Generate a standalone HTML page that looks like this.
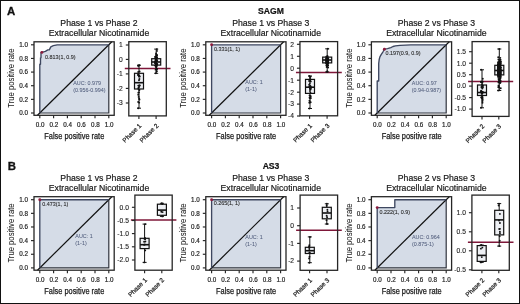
<!DOCTYPE html>
<html><head><meta charset="utf-8"><style>
html,body{margin:0;padding:0;background:#fff;}
svg{display:block;will-change:transform;}
text{font-family:"Liberation Sans", sans-serif;}
</style></head><body>
<svg width="520" height="304" viewBox="0 0 520 304">
<rect x="0" y="0" width="520" height="304" fill="#fff"/>
<rect x="0.5" y="0.5" width="519" height="303" fill="none" stroke="#111" stroke-width="1"/>
<text x="7.00" y="15.40" font-size="11.4" text-anchor="start" font-weight="bold" fill="#111" stroke="#111" stroke-width="0.3" >A</text>
<text x="7.80" y="169.80" font-size="11.4" text-anchor="start" font-weight="bold" fill="#111" stroke="#111" stroke-width="0.3" >B</text>
<text x="271.00" y="14.00" font-size="8.6" text-anchor="middle" font-weight="bold" fill="#111" stroke="#111" stroke-width="0.2" >SAGM</text>
<text x="271.00" y="168.60" font-size="8.6" text-anchor="middle" font-weight="bold" fill="#111" stroke="#111" stroke-width="0.2" >AS3</text>
<text x="99.00" y="25.80" font-size="8.7" text-anchor="middle" font-weight="normal" fill="#1a1a1a" stroke="#1a1a1a" stroke-width="0.2" >Phase 1 vs Phase 2</text>
<text x="99.00" y="35.90" font-size="8.7" text-anchor="middle" font-weight="normal" fill="#1a1a1a" stroke="#1a1a1a" stroke-width="0.2" >Extracellular Nicotinamide</text>
<text x="270.80" y="25.80" font-size="8.7" text-anchor="middle" font-weight="normal" fill="#1a1a1a" stroke="#1a1a1a" stroke-width="0.2" >Phase 1 vs Phase 3</text>
<text x="270.80" y="35.90" font-size="8.7" text-anchor="middle" font-weight="normal" fill="#1a1a1a" stroke="#1a1a1a" stroke-width="0.2" >Extracellular Nicotinamide</text>
<text x="436.40" y="25.80" font-size="8.7" text-anchor="middle" font-weight="normal" fill="#1a1a1a" stroke="#1a1a1a" stroke-width="0.2" >Phase 2 vs Phase 3</text>
<text x="436.40" y="35.90" font-size="8.7" text-anchor="middle" font-weight="normal" fill="#1a1a1a" stroke="#1a1a1a" stroke-width="0.2" >Extracellular Nicotinamide</text>
<text x="99.00" y="180.80" font-size="8.7" text-anchor="middle" font-weight="normal" fill="#1a1a1a" stroke="#1a1a1a" stroke-width="0.2" >Phase 1 vs Phase 2</text>
<text x="99.00" y="190.90" font-size="8.7" text-anchor="middle" font-weight="normal" fill="#1a1a1a" stroke="#1a1a1a" stroke-width="0.2" >Extracellular Nicotinamide</text>
<text x="270.80" y="180.80" font-size="8.7" text-anchor="middle" font-weight="normal" fill="#1a1a1a" stroke="#1a1a1a" stroke-width="0.2" >Phase 1 vs Phase 3</text>
<text x="270.80" y="190.90" font-size="8.7" text-anchor="middle" font-weight="normal" fill="#1a1a1a" stroke="#1a1a1a" stroke-width="0.2" >Extracellular Nicotinamide</text>
<text x="436.40" y="180.80" font-size="8.7" text-anchor="middle" font-weight="normal" fill="#1a1a1a" stroke="#1a1a1a" stroke-width="0.2" >Phase 2 vs Phase 3</text>
<text x="436.40" y="190.90" font-size="8.7" text-anchor="middle" font-weight="normal" fill="#1a1a1a" stroke="#1a1a1a" stroke-width="0.2" >Extracellular Nicotinamide</text>
<polygon points="39.80,113.00 39.80,113.00 39.80,64.20 40.50,64.20 40.50,57.80 41.00,57.80 41.00,52.40 41.90,52.40 45.40,51.40 47.80,49.90 49.30,49.90 50.80,46.90 53.30,45.70 57.20,44.80 108.80,44.80 108.80,113.00" fill="#d5dce7"/>
<polyline points="39.80,113.00 108.80,113.00 108.80,44.80" fill="none" stroke="#30343e" stroke-width="1.2"/>
<line x1="37.47" y1="115.30" x2="111.84" y2="41.80" stroke="#111" stroke-width="1.2"/>
<polyline points="39.80,113.00 39.80,64.20 40.50,64.20 40.50,57.80 41.00,57.80 41.00,52.40 41.90,52.40 45.40,51.40 47.80,49.90 49.30,49.90 50.80,46.90 53.30,45.70 57.20,44.80 108.80,44.80" fill="none" stroke="#3e4760" stroke-width="1.35" stroke-linejoin="round"/>
<rect x="34.00" y="41.80" width="80.2" height="73.5" fill="none" stroke="#262626" stroke-width="1.3"/>
<line x1="31.00" y1="113.00" x2="34.00" y2="113.00" stroke="#262626" stroke-width="1.15"/>
<text x="28.00" y="115.20" font-size="6.3" text-anchor="end" font-weight="normal" fill="#222" stroke="#222" stroke-width="0.18" >0.0</text>
<line x1="31.00" y1="99.36" x2="34.00" y2="99.36" stroke="#262626" stroke-width="1.15"/>
<text x="28.00" y="101.56" font-size="6.3" text-anchor="end" font-weight="normal" fill="#222" stroke="#222" stroke-width="0.18" >0.2</text>
<line x1="31.00" y1="85.72" x2="34.00" y2="85.72" stroke="#262626" stroke-width="1.15"/>
<text x="28.00" y="87.92" font-size="6.3" text-anchor="end" font-weight="normal" fill="#222" stroke="#222" stroke-width="0.18" >0.4</text>
<line x1="31.00" y1="72.08" x2="34.00" y2="72.08" stroke="#262626" stroke-width="1.15"/>
<text x="28.00" y="74.28" font-size="6.3" text-anchor="end" font-weight="normal" fill="#222" stroke="#222" stroke-width="0.18" >0.6</text>
<line x1="31.00" y1="58.44" x2="34.00" y2="58.44" stroke="#262626" stroke-width="1.15"/>
<text x="28.00" y="60.64" font-size="6.3" text-anchor="end" font-weight="normal" fill="#222" stroke="#222" stroke-width="0.18" >0.8</text>
<line x1="31.00" y1="44.80" x2="34.00" y2="44.80" stroke="#262626" stroke-width="1.15"/>
<text x="28.00" y="47.00" font-size="6.3" text-anchor="end" font-weight="normal" fill="#222" stroke="#222" stroke-width="0.18" >1.0</text>
<line x1="39.80" y1="115.30" x2="39.80" y2="118.30" stroke="#262626" stroke-width="1.15"/>
<text x="40.10" y="127.40" font-size="6.3" text-anchor="middle" font-weight="normal" fill="#222" stroke="#222" stroke-width="0.18" >0.0</text>
<line x1="53.60" y1="115.30" x2="53.60" y2="118.30" stroke="#262626" stroke-width="1.15"/>
<text x="53.90" y="127.40" font-size="6.3" text-anchor="middle" font-weight="normal" fill="#222" stroke="#222" stroke-width="0.18" >0.2</text>
<line x1="67.40" y1="115.30" x2="67.40" y2="118.30" stroke="#262626" stroke-width="1.15"/>
<text x="67.70" y="127.40" font-size="6.3" text-anchor="middle" font-weight="normal" fill="#222" stroke="#222" stroke-width="0.18" >0.4</text>
<line x1="81.20" y1="115.30" x2="81.20" y2="118.30" stroke="#262626" stroke-width="1.15"/>
<text x="81.50" y="127.40" font-size="6.3" text-anchor="middle" font-weight="normal" fill="#222" stroke="#222" stroke-width="0.18" >0.6</text>
<line x1="95.00" y1="115.30" x2="95.00" y2="118.30" stroke="#262626" stroke-width="1.15"/>
<text x="95.30" y="127.40" font-size="6.3" text-anchor="middle" font-weight="normal" fill="#222" stroke="#222" stroke-width="0.18" >0.8</text>
<line x1="108.80" y1="115.30" x2="108.80" y2="118.30" stroke="#262626" stroke-width="1.15"/>
<text x="109.10" y="127.40" font-size="6.3" text-anchor="middle" font-weight="normal" fill="#222" stroke="#222" stroke-width="0.18" >1.0</text>
<text x="74.30" y="139.30" font-size="8.5" text-anchor="middle" font-weight="normal" fill="#1a1a1a" stroke="#1a1a1a" stroke-width="0.25" textLength="60" lengthAdjust="spacingAndGlyphs">False positive rate</text>
<text transform="translate(14.20,78.10) rotate(-90)" x="0" y="0" font-size="8.5" text-anchor="middle" fill="#1a1a1a" stroke="#1a1a1a" stroke-width="0.05" textLength="59.2" lengthAdjust="spacingAndGlyphs">True positive rate</text>
<circle cx="41.90" cy="52.40" r="1.45" fill="#8c1a3c"/>
<text x="45.10" y="58.90" font-size="5.4" text-anchor="start" font-weight="normal" fill="#2a2a2a" stroke="#2a2a2a" stroke-width="0.1" >0.813(1, 0.9)</text>
<text x="73.20" y="84.90" font-size="5.4" text-anchor="start" font-weight="normal" fill="#515d7c" stroke="#515d7c" stroke-width="0.05" >AUC: 0.979</text>
<text x="73.20" y="91.90" font-size="5.4" text-anchor="start" font-weight="normal" fill="#515d7c" stroke="#515d7c" stroke-width="0.05" >(0.956-0.994)</text>
<polygon points="211.60,113.00 211.60,113.00 211.60,44.80 280.60,44.80 280.60,113.00" fill="#d5dce7"/>
<polyline points="211.60,113.00 280.60,113.00 280.60,44.80" fill="none" stroke="#30343e" stroke-width="1.2"/>
<line x1="209.27" y1="115.30" x2="283.64" y2="41.80" stroke="#111" stroke-width="1.2"/>
<polyline points="211.60,113.00 211.60,44.80 280.60,44.80" fill="none" stroke="#3e4760" stroke-width="1.35" stroke-linejoin="round"/>
<rect x="205.80" y="41.80" width="80.2" height="73.5" fill="none" stroke="#262626" stroke-width="1.3"/>
<line x1="202.80" y1="113.00" x2="205.80" y2="113.00" stroke="#262626" stroke-width="1.15"/>
<text x="199.80" y="115.20" font-size="6.3" text-anchor="end" font-weight="normal" fill="#222" stroke="#222" stroke-width="0.18" >0.0</text>
<line x1="202.80" y1="99.36" x2="205.80" y2="99.36" stroke="#262626" stroke-width="1.15"/>
<text x="199.80" y="101.56" font-size="6.3" text-anchor="end" font-weight="normal" fill="#222" stroke="#222" stroke-width="0.18" >0.2</text>
<line x1="202.80" y1="85.72" x2="205.80" y2="85.72" stroke="#262626" stroke-width="1.15"/>
<text x="199.80" y="87.92" font-size="6.3" text-anchor="end" font-weight="normal" fill="#222" stroke="#222" stroke-width="0.18" >0.4</text>
<line x1="202.80" y1="72.08" x2="205.80" y2="72.08" stroke="#262626" stroke-width="1.15"/>
<text x="199.80" y="74.28" font-size="6.3" text-anchor="end" font-weight="normal" fill="#222" stroke="#222" stroke-width="0.18" >0.6</text>
<line x1="202.80" y1="58.44" x2="205.80" y2="58.44" stroke="#262626" stroke-width="1.15"/>
<text x="199.80" y="60.64" font-size="6.3" text-anchor="end" font-weight="normal" fill="#222" stroke="#222" stroke-width="0.18" >0.8</text>
<line x1="202.80" y1="44.80" x2="205.80" y2="44.80" stroke="#262626" stroke-width="1.15"/>
<text x="199.80" y="47.00" font-size="6.3" text-anchor="end" font-weight="normal" fill="#222" stroke="#222" stroke-width="0.18" >1.0</text>
<line x1="211.60" y1="115.30" x2="211.60" y2="118.30" stroke="#262626" stroke-width="1.15"/>
<text x="211.90" y="127.40" font-size="6.3" text-anchor="middle" font-weight="normal" fill="#222" stroke="#222" stroke-width="0.18" >0.0</text>
<line x1="225.40" y1="115.30" x2="225.40" y2="118.30" stroke="#262626" stroke-width="1.15"/>
<text x="225.70" y="127.40" font-size="6.3" text-anchor="middle" font-weight="normal" fill="#222" stroke="#222" stroke-width="0.18" >0.2</text>
<line x1="239.20" y1="115.30" x2="239.20" y2="118.30" stroke="#262626" stroke-width="1.15"/>
<text x="239.50" y="127.40" font-size="6.3" text-anchor="middle" font-weight="normal" fill="#222" stroke="#222" stroke-width="0.18" >0.4</text>
<line x1="253.00" y1="115.30" x2="253.00" y2="118.30" stroke="#262626" stroke-width="1.15"/>
<text x="253.30" y="127.40" font-size="6.3" text-anchor="middle" font-weight="normal" fill="#222" stroke="#222" stroke-width="0.18" >0.6</text>
<line x1="266.80" y1="115.30" x2="266.80" y2="118.30" stroke="#262626" stroke-width="1.15"/>
<text x="267.10" y="127.40" font-size="6.3" text-anchor="middle" font-weight="normal" fill="#222" stroke="#222" stroke-width="0.18" >0.8</text>
<line x1="280.60" y1="115.30" x2="280.60" y2="118.30" stroke="#262626" stroke-width="1.15"/>
<text x="280.90" y="127.40" font-size="6.3" text-anchor="middle" font-weight="normal" fill="#222" stroke="#222" stroke-width="0.18" >1.0</text>
<text x="246.10" y="139.30" font-size="8.5" text-anchor="middle" font-weight="normal" fill="#1a1a1a" stroke="#1a1a1a" stroke-width="0.25" textLength="60" lengthAdjust="spacingAndGlyphs">False positive rate</text>
<text transform="translate(186.00,78.10) rotate(-90)" x="0" y="0" font-size="8.5" text-anchor="middle" fill="#1a1a1a" stroke="#1a1a1a" stroke-width="0.05" textLength="59.2" lengthAdjust="spacingAndGlyphs">True positive rate</text>
<circle cx="211.60" cy="44.80" r="1.45" fill="#8c1a3c"/>
<text x="214.00" y="50.60" font-size="5.4" text-anchor="start" font-weight="normal" fill="#2a2a2a" stroke="#2a2a2a" stroke-width="0.1" >0.331(1, 1)</text>
<text x="245.30" y="84.10" font-size="5.4" text-anchor="start" font-weight="normal" fill="#515d7c" stroke="#515d7c" stroke-width="0.05" >AUC: 1</text>
<text x="245.30" y="91.10" font-size="5.4" text-anchor="start" font-weight="normal" fill="#515d7c" stroke="#515d7c" stroke-width="0.05" >(1-1)</text>
<polygon points="377.20,113.00 377.20,113.00 377.20,81.00 378.70,81.00 378.70,63.50 379.20,59.50 379.90,56.80 381.30,54.40 383.00,51.80 384.40,49.20 387.50,48.60 390.80,47.70 393.00,46.50 395.40,45.80 400.00,45.30 410.80,44.80 420.00,44.80 446.20,44.80 446.20,113.00" fill="#d5dce7"/>
<polyline points="377.20,113.00 446.20,113.00 446.20,44.80" fill="none" stroke="#30343e" stroke-width="1.2"/>
<line x1="374.87" y1="115.30" x2="449.24" y2="41.80" stroke="#111" stroke-width="1.2"/>
<polyline points="377.20,113.00 377.20,81.00 378.70,81.00 378.70,63.50 379.20,59.50 379.90,56.80 381.30,54.40 383.00,51.80 384.40,49.20 387.50,48.60 390.80,47.70 393.00,46.50 395.40,45.80 400.00,45.30 410.80,44.80 420.00,44.80 446.20,44.80" fill="none" stroke="#3e4760" stroke-width="1.35" stroke-linejoin="round"/>
<rect x="371.40" y="41.80" width="80.2" height="73.5" fill="none" stroke="#262626" stroke-width="1.3"/>
<line x1="368.40" y1="113.00" x2="371.40" y2="113.00" stroke="#262626" stroke-width="1.15"/>
<text x="365.40" y="115.20" font-size="6.3" text-anchor="end" font-weight="normal" fill="#222" stroke="#222" stroke-width="0.18" >0.0</text>
<line x1="368.40" y1="99.36" x2="371.40" y2="99.36" stroke="#262626" stroke-width="1.15"/>
<text x="365.40" y="101.56" font-size="6.3" text-anchor="end" font-weight="normal" fill="#222" stroke="#222" stroke-width="0.18" >0.2</text>
<line x1="368.40" y1="85.72" x2="371.40" y2="85.72" stroke="#262626" stroke-width="1.15"/>
<text x="365.40" y="87.92" font-size="6.3" text-anchor="end" font-weight="normal" fill="#222" stroke="#222" stroke-width="0.18" >0.4</text>
<line x1="368.40" y1="72.08" x2="371.40" y2="72.08" stroke="#262626" stroke-width="1.15"/>
<text x="365.40" y="74.28" font-size="6.3" text-anchor="end" font-weight="normal" fill="#222" stroke="#222" stroke-width="0.18" >0.6</text>
<line x1="368.40" y1="58.44" x2="371.40" y2="58.44" stroke="#262626" stroke-width="1.15"/>
<text x="365.40" y="60.64" font-size="6.3" text-anchor="end" font-weight="normal" fill="#222" stroke="#222" stroke-width="0.18" >0.8</text>
<line x1="368.40" y1="44.80" x2="371.40" y2="44.80" stroke="#262626" stroke-width="1.15"/>
<text x="365.40" y="47.00" font-size="6.3" text-anchor="end" font-weight="normal" fill="#222" stroke="#222" stroke-width="0.18" >1.0</text>
<line x1="377.20" y1="115.30" x2="377.20" y2="118.30" stroke="#262626" stroke-width="1.15"/>
<text x="377.50" y="127.40" font-size="6.3" text-anchor="middle" font-weight="normal" fill="#222" stroke="#222" stroke-width="0.18" >0.0</text>
<line x1="391.00" y1="115.30" x2="391.00" y2="118.30" stroke="#262626" stroke-width="1.15"/>
<text x="391.30" y="127.40" font-size="6.3" text-anchor="middle" font-weight="normal" fill="#222" stroke="#222" stroke-width="0.18" >0.2</text>
<line x1="404.80" y1="115.30" x2="404.80" y2="118.30" stroke="#262626" stroke-width="1.15"/>
<text x="405.10" y="127.40" font-size="6.3" text-anchor="middle" font-weight="normal" fill="#222" stroke="#222" stroke-width="0.18" >0.4</text>
<line x1="418.60" y1="115.30" x2="418.60" y2="118.30" stroke="#262626" stroke-width="1.15"/>
<text x="418.90" y="127.40" font-size="6.3" text-anchor="middle" font-weight="normal" fill="#222" stroke="#222" stroke-width="0.18" >0.6</text>
<line x1="432.40" y1="115.30" x2="432.40" y2="118.30" stroke="#262626" stroke-width="1.15"/>
<text x="432.70" y="127.40" font-size="6.3" text-anchor="middle" font-weight="normal" fill="#222" stroke="#222" stroke-width="0.18" >0.8</text>
<line x1="446.20" y1="115.30" x2="446.20" y2="118.30" stroke="#262626" stroke-width="1.15"/>
<text x="446.50" y="127.40" font-size="6.3" text-anchor="middle" font-weight="normal" fill="#222" stroke="#222" stroke-width="0.18" >1.0</text>
<text x="411.70" y="139.30" font-size="8.5" text-anchor="middle" font-weight="normal" fill="#1a1a1a" stroke="#1a1a1a" stroke-width="0.25" textLength="60" lengthAdjust="spacingAndGlyphs">False positive rate</text>
<text transform="translate(351.60,78.10) rotate(-90)" x="0" y="0" font-size="8.5" text-anchor="middle" fill="#1a1a1a" stroke="#1a1a1a" stroke-width="0.05" textLength="59.2" lengthAdjust="spacingAndGlyphs">True positive rate</text>
<circle cx="384.40" cy="49.20" r="1.45" fill="#8c1a3c"/>
<text x="385.40" y="54.70" font-size="5.4" text-anchor="start" font-weight="normal" fill="#2a2a2a" stroke="#2a2a2a" stroke-width="0.1" >0.197(0.9, 0.9)</text>
<text x="411.80" y="84.50" font-size="5.4" text-anchor="start" font-weight="normal" fill="#515d7c" stroke="#515d7c" stroke-width="0.05" >AUC: 0.97</text>
<text x="411.80" y="91.50" font-size="5.4" text-anchor="start" font-weight="normal" fill="#515d7c" stroke="#515d7c" stroke-width="0.05" >(0.94-0.987)</text>
<polygon points="39.80,267.90 39.80,267.90 39.80,199.70 108.80,199.70 108.80,267.90" fill="#d5dce7"/>
<polyline points="39.80,267.90 108.80,267.90 108.80,199.70" fill="none" stroke="#30343e" stroke-width="1.2"/>
<line x1="37.47" y1="270.20" x2="111.84" y2="196.70" stroke="#111" stroke-width="1.2"/>
<polyline points="39.80,267.90 39.80,199.70 108.80,199.70" fill="none" stroke="#3e4760" stroke-width="1.35" stroke-linejoin="round"/>
<rect x="34.00" y="196.70" width="80.2" height="73.5" fill="none" stroke="#262626" stroke-width="1.3"/>
<line x1="31.00" y1="267.90" x2="34.00" y2="267.90" stroke="#262626" stroke-width="1.15"/>
<text x="28.00" y="270.10" font-size="6.3" text-anchor="end" font-weight="normal" fill="#222" stroke="#222" stroke-width="0.18" >0.0</text>
<line x1="31.00" y1="254.26" x2="34.00" y2="254.26" stroke="#262626" stroke-width="1.15"/>
<text x="28.00" y="256.46" font-size="6.3" text-anchor="end" font-weight="normal" fill="#222" stroke="#222" stroke-width="0.18" >0.2</text>
<line x1="31.00" y1="240.62" x2="34.00" y2="240.62" stroke="#262626" stroke-width="1.15"/>
<text x="28.00" y="242.82" font-size="6.3" text-anchor="end" font-weight="normal" fill="#222" stroke="#222" stroke-width="0.18" >0.4</text>
<line x1="31.00" y1="226.98" x2="34.00" y2="226.98" stroke="#262626" stroke-width="1.15"/>
<text x="28.00" y="229.18" font-size="6.3" text-anchor="end" font-weight="normal" fill="#222" stroke="#222" stroke-width="0.18" >0.6</text>
<line x1="31.00" y1="213.34" x2="34.00" y2="213.34" stroke="#262626" stroke-width="1.15"/>
<text x="28.00" y="215.54" font-size="6.3" text-anchor="end" font-weight="normal" fill="#222" stroke="#222" stroke-width="0.18" >0.8</text>
<line x1="31.00" y1="199.70" x2="34.00" y2="199.70" stroke="#262626" stroke-width="1.15"/>
<text x="28.00" y="201.90" font-size="6.3" text-anchor="end" font-weight="normal" fill="#222" stroke="#222" stroke-width="0.18" >1.0</text>
<line x1="39.80" y1="270.20" x2="39.80" y2="273.20" stroke="#262626" stroke-width="1.15"/>
<text x="40.10" y="282.30" font-size="6.3" text-anchor="middle" font-weight="normal" fill="#222" stroke="#222" stroke-width="0.18" >0.0</text>
<line x1="53.60" y1="270.20" x2="53.60" y2="273.20" stroke="#262626" stroke-width="1.15"/>
<text x="53.90" y="282.30" font-size="6.3" text-anchor="middle" font-weight="normal" fill="#222" stroke="#222" stroke-width="0.18" >0.2</text>
<line x1="67.40" y1="270.20" x2="67.40" y2="273.20" stroke="#262626" stroke-width="1.15"/>
<text x="67.70" y="282.30" font-size="6.3" text-anchor="middle" font-weight="normal" fill="#222" stroke="#222" stroke-width="0.18" >0.4</text>
<line x1="81.20" y1="270.20" x2="81.20" y2="273.20" stroke="#262626" stroke-width="1.15"/>
<text x="81.50" y="282.30" font-size="6.3" text-anchor="middle" font-weight="normal" fill="#222" stroke="#222" stroke-width="0.18" >0.6</text>
<line x1="95.00" y1="270.20" x2="95.00" y2="273.20" stroke="#262626" stroke-width="1.15"/>
<text x="95.30" y="282.30" font-size="6.3" text-anchor="middle" font-weight="normal" fill="#222" stroke="#222" stroke-width="0.18" >0.8</text>
<line x1="108.80" y1="270.20" x2="108.80" y2="273.20" stroke="#262626" stroke-width="1.15"/>
<text x="109.10" y="282.30" font-size="6.3" text-anchor="middle" font-weight="normal" fill="#222" stroke="#222" stroke-width="0.18" >1.0</text>
<text x="74.30" y="294.20" font-size="8.5" text-anchor="middle" font-weight="normal" fill="#1a1a1a" stroke="#1a1a1a" stroke-width="0.25" textLength="60" lengthAdjust="spacingAndGlyphs">False positive rate</text>
<text transform="translate(14.20,233.00) rotate(-90)" x="0" y="0" font-size="8.5" text-anchor="middle" fill="#1a1a1a" stroke="#1a1a1a" stroke-width="0.05" textLength="59.2" lengthAdjust="spacingAndGlyphs">True positive rate</text>
<circle cx="39.80" cy="199.70" r="1.45" fill="#8c1a3c"/>
<text x="42.30" y="205.70" font-size="5.4" text-anchor="start" font-weight="normal" fill="#2a2a2a" stroke="#2a2a2a" stroke-width="0.1" >0.473(1, 1)</text>
<text x="75.30" y="238.10" font-size="5.4" text-anchor="start" font-weight="normal" fill="#515d7c" stroke="#515d7c" stroke-width="0.05" >AUC: 1</text>
<text x="75.30" y="245.10" font-size="5.4" text-anchor="start" font-weight="normal" fill="#515d7c" stroke="#515d7c" stroke-width="0.05" >(1-1)</text>
<polygon points="211.60,267.90 211.60,267.90 211.60,199.70 280.60,199.70 280.60,267.90" fill="#d5dce7"/>
<polyline points="211.60,267.90 280.60,267.90 280.60,199.70" fill="none" stroke="#30343e" stroke-width="1.2"/>
<line x1="209.27" y1="270.20" x2="283.64" y2="196.70" stroke="#111" stroke-width="1.2"/>
<polyline points="211.60,267.90 211.60,199.70 280.60,199.70" fill="none" stroke="#3e4760" stroke-width="1.35" stroke-linejoin="round"/>
<rect x="205.80" y="196.70" width="80.2" height="73.5" fill="none" stroke="#262626" stroke-width="1.3"/>
<line x1="202.80" y1="267.90" x2="205.80" y2="267.90" stroke="#262626" stroke-width="1.15"/>
<text x="199.80" y="270.10" font-size="6.3" text-anchor="end" font-weight="normal" fill="#222" stroke="#222" stroke-width="0.18" >0.0</text>
<line x1="202.80" y1="254.26" x2="205.80" y2="254.26" stroke="#262626" stroke-width="1.15"/>
<text x="199.80" y="256.46" font-size="6.3" text-anchor="end" font-weight="normal" fill="#222" stroke="#222" stroke-width="0.18" >0.2</text>
<line x1="202.80" y1="240.62" x2="205.80" y2="240.62" stroke="#262626" stroke-width="1.15"/>
<text x="199.80" y="242.82" font-size="6.3" text-anchor="end" font-weight="normal" fill="#222" stroke="#222" stroke-width="0.18" >0.4</text>
<line x1="202.80" y1="226.98" x2="205.80" y2="226.98" stroke="#262626" stroke-width="1.15"/>
<text x="199.80" y="229.18" font-size="6.3" text-anchor="end" font-weight="normal" fill="#222" stroke="#222" stroke-width="0.18" >0.6</text>
<line x1="202.80" y1="213.34" x2="205.80" y2="213.34" stroke="#262626" stroke-width="1.15"/>
<text x="199.80" y="215.54" font-size="6.3" text-anchor="end" font-weight="normal" fill="#222" stroke="#222" stroke-width="0.18" >0.8</text>
<line x1="202.80" y1="199.70" x2="205.80" y2="199.70" stroke="#262626" stroke-width="1.15"/>
<text x="199.80" y="201.90" font-size="6.3" text-anchor="end" font-weight="normal" fill="#222" stroke="#222" stroke-width="0.18" >1.0</text>
<line x1="211.60" y1="270.20" x2="211.60" y2="273.20" stroke="#262626" stroke-width="1.15"/>
<text x="211.90" y="282.30" font-size="6.3" text-anchor="middle" font-weight="normal" fill="#222" stroke="#222" stroke-width="0.18" >0.0</text>
<line x1="225.40" y1="270.20" x2="225.40" y2="273.20" stroke="#262626" stroke-width="1.15"/>
<text x="225.70" y="282.30" font-size="6.3" text-anchor="middle" font-weight="normal" fill="#222" stroke="#222" stroke-width="0.18" >0.2</text>
<line x1="239.20" y1="270.20" x2="239.20" y2="273.20" stroke="#262626" stroke-width="1.15"/>
<text x="239.50" y="282.30" font-size="6.3" text-anchor="middle" font-weight="normal" fill="#222" stroke="#222" stroke-width="0.18" >0.4</text>
<line x1="253.00" y1="270.20" x2="253.00" y2="273.20" stroke="#262626" stroke-width="1.15"/>
<text x="253.30" y="282.30" font-size="6.3" text-anchor="middle" font-weight="normal" fill="#222" stroke="#222" stroke-width="0.18" >0.6</text>
<line x1="266.80" y1="270.20" x2="266.80" y2="273.20" stroke="#262626" stroke-width="1.15"/>
<text x="267.10" y="282.30" font-size="6.3" text-anchor="middle" font-weight="normal" fill="#222" stroke="#222" stroke-width="0.18" >0.8</text>
<line x1="280.60" y1="270.20" x2="280.60" y2="273.20" stroke="#262626" stroke-width="1.15"/>
<text x="280.90" y="282.30" font-size="6.3" text-anchor="middle" font-weight="normal" fill="#222" stroke="#222" stroke-width="0.18" >1.0</text>
<text x="246.10" y="294.20" font-size="8.5" text-anchor="middle" font-weight="normal" fill="#1a1a1a" stroke="#1a1a1a" stroke-width="0.25" textLength="60" lengthAdjust="spacingAndGlyphs">False positive rate</text>
<text transform="translate(186.00,233.00) rotate(-90)" x="0" y="0" font-size="8.5" text-anchor="middle" fill="#1a1a1a" stroke="#1a1a1a" stroke-width="0.05" textLength="59.2" lengthAdjust="spacingAndGlyphs">True positive rate</text>
<circle cx="211.60" cy="199.70" r="1.45" fill="#8c1a3c"/>
<text x="213.70" y="205.40" font-size="5.4" text-anchor="start" font-weight="normal" fill="#2a2a2a" stroke="#2a2a2a" stroke-width="0.1" >0.265(1, 1)</text>
<text x="245.30" y="239.00" font-size="5.4" text-anchor="start" font-weight="normal" fill="#515d7c" stroke="#515d7c" stroke-width="0.05" >AUC: 1</text>
<text x="245.30" y="246.00" font-size="5.4" text-anchor="start" font-weight="normal" fill="#515d7c" stroke="#515d7c" stroke-width="0.05" >(1-1)</text>
<polygon points="377.20,267.90 377.20,267.90 377.20,207.60 394.80,207.60 394.80,199.70 446.20,199.70 446.20,267.90" fill="#d5dce7"/>
<polyline points="377.20,267.90 446.20,267.90 446.20,199.70" fill="none" stroke="#30343e" stroke-width="1.2"/>
<line x1="374.87" y1="270.20" x2="449.24" y2="196.70" stroke="#111" stroke-width="1.2"/>
<polyline points="377.20,267.90 377.20,207.60 394.80,207.60 394.80,199.70 446.20,199.70" fill="none" stroke="#3e4760" stroke-width="1.35" stroke-linejoin="round"/>
<rect x="371.40" y="196.70" width="80.2" height="73.5" fill="none" stroke="#262626" stroke-width="1.3"/>
<line x1="368.40" y1="267.90" x2="371.40" y2="267.90" stroke="#262626" stroke-width="1.15"/>
<text x="365.40" y="270.10" font-size="6.3" text-anchor="end" font-weight="normal" fill="#222" stroke="#222" stroke-width="0.18" >0.0</text>
<line x1="368.40" y1="254.26" x2="371.40" y2="254.26" stroke="#262626" stroke-width="1.15"/>
<text x="365.40" y="256.46" font-size="6.3" text-anchor="end" font-weight="normal" fill="#222" stroke="#222" stroke-width="0.18" >0.2</text>
<line x1="368.40" y1="240.62" x2="371.40" y2="240.62" stroke="#262626" stroke-width="1.15"/>
<text x="365.40" y="242.82" font-size="6.3" text-anchor="end" font-weight="normal" fill="#222" stroke="#222" stroke-width="0.18" >0.4</text>
<line x1="368.40" y1="226.98" x2="371.40" y2="226.98" stroke="#262626" stroke-width="1.15"/>
<text x="365.40" y="229.18" font-size="6.3" text-anchor="end" font-weight="normal" fill="#222" stroke="#222" stroke-width="0.18" >0.6</text>
<line x1="368.40" y1="213.34" x2="371.40" y2="213.34" stroke="#262626" stroke-width="1.15"/>
<text x="365.40" y="215.54" font-size="6.3" text-anchor="end" font-weight="normal" fill="#222" stroke="#222" stroke-width="0.18" >0.8</text>
<line x1="368.40" y1="199.70" x2="371.40" y2="199.70" stroke="#262626" stroke-width="1.15"/>
<text x="365.40" y="201.90" font-size="6.3" text-anchor="end" font-weight="normal" fill="#222" stroke="#222" stroke-width="0.18" >1.0</text>
<line x1="377.20" y1="270.20" x2="377.20" y2="273.20" stroke="#262626" stroke-width="1.15"/>
<text x="377.50" y="282.30" font-size="6.3" text-anchor="middle" font-weight="normal" fill="#222" stroke="#222" stroke-width="0.18" >0.0</text>
<line x1="391.00" y1="270.20" x2="391.00" y2="273.20" stroke="#262626" stroke-width="1.15"/>
<text x="391.30" y="282.30" font-size="6.3" text-anchor="middle" font-weight="normal" fill="#222" stroke="#222" stroke-width="0.18" >0.2</text>
<line x1="404.80" y1="270.20" x2="404.80" y2="273.20" stroke="#262626" stroke-width="1.15"/>
<text x="405.10" y="282.30" font-size="6.3" text-anchor="middle" font-weight="normal" fill="#222" stroke="#222" stroke-width="0.18" >0.4</text>
<line x1="418.60" y1="270.20" x2="418.60" y2="273.20" stroke="#262626" stroke-width="1.15"/>
<text x="418.90" y="282.30" font-size="6.3" text-anchor="middle" font-weight="normal" fill="#222" stroke="#222" stroke-width="0.18" >0.6</text>
<line x1="432.40" y1="270.20" x2="432.40" y2="273.20" stroke="#262626" stroke-width="1.15"/>
<text x="432.70" y="282.30" font-size="6.3" text-anchor="middle" font-weight="normal" fill="#222" stroke="#222" stroke-width="0.18" >0.8</text>
<line x1="446.20" y1="270.20" x2="446.20" y2="273.20" stroke="#262626" stroke-width="1.15"/>
<text x="446.50" y="282.30" font-size="6.3" text-anchor="middle" font-weight="normal" fill="#222" stroke="#222" stroke-width="0.18" >1.0</text>
<text x="411.70" y="294.20" font-size="8.5" text-anchor="middle" font-weight="normal" fill="#1a1a1a" stroke="#1a1a1a" stroke-width="0.25" textLength="60" lengthAdjust="spacingAndGlyphs">False positive rate</text>
<text transform="translate(351.60,233.00) rotate(-90)" x="0" y="0" font-size="8.5" text-anchor="middle" fill="#1a1a1a" stroke="#1a1a1a" stroke-width="0.05" textLength="59.2" lengthAdjust="spacingAndGlyphs">True positive rate</text>
<circle cx="377.20" cy="207.60" r="1.45" fill="#8c1a3c"/>
<text x="379.50" y="214.00" font-size="5.4" text-anchor="start" font-weight="normal" fill="#2a2a2a" stroke="#2a2a2a" stroke-width="0.1" >0.222(1, 0.9)</text>
<text x="411.90" y="239.00" font-size="5.4" text-anchor="start" font-weight="normal" fill="#515d7c" stroke="#515d7c" stroke-width="0.05" >AUC: 0.964</text>
<text x="411.90" y="246.00" font-size="5.4" text-anchor="start" font-weight="normal" fill="#515d7c" stroke="#515d7c" stroke-width="0.05" >(0.875-1)</text>
<line x1="124.80" y1="68.50" x2="170.50" y2="68.50" stroke="#7e1739" stroke-width="1.5"/>
<line x1="139.00" y1="65.20" x2="139.00" y2="73.30" stroke="#111" stroke-width="1"/>
<line x1="139.00" y1="89.00" x2="139.00" y2="108.20" stroke="#111" stroke-width="1"/>
<line x1="137.00" y1="65.20" x2="141.00" y2="65.20" stroke="#111" stroke-width="1"/>
<line x1="137.00" y1="108.20" x2="141.00" y2="108.20" stroke="#111" stroke-width="1"/>
<rect x="134.50" y="73.30" width="9.0" height="15.70" fill="#eef0f4" stroke="#111" stroke-width="1.2"/>
<line x1="134.50" y1="82.70" x2="143.50" y2="82.70" stroke="#111" stroke-width="1.6"/>
<circle cx="139.27" cy="65.20" r="0.95" fill="#111"/>
<circle cx="138.23" cy="108.20" r="0.95" fill="#111"/>
<circle cx="138.20" cy="71.88" r="0.95" fill="#111"/>
<circle cx="139.01" cy="80.22" r="0.95" fill="#111"/>
<circle cx="138.23" cy="94.76" r="0.95" fill="#111"/>
<circle cx="138.26" cy="85.59" r="0.95" fill="#111"/>
<circle cx="138.32" cy="92.65" r="0.95" fill="#111"/>
<circle cx="139.81" cy="85.43" r="0.95" fill="#111"/>
<circle cx="139.14" cy="98.81" r="0.95" fill="#111"/>
<circle cx="138.18" cy="101.93" r="0.95" fill="#111"/>
<circle cx="138.36" cy="88.76" r="0.95" fill="#111"/>
<circle cx="138.31" cy="75.23" r="0.95" fill="#111"/>
<circle cx="138.43" cy="75.01" r="0.95" fill="#111"/>
<circle cx="139.15" cy="102.67" r="0.95" fill="#111"/>
<circle cx="139.09" cy="75.49" r="0.95" fill="#111"/>
<circle cx="138.21" cy="74.10" r="0.95" fill="#111"/>
<circle cx="139.32" cy="90.05" r="0.95" fill="#111"/>
<circle cx="138.87" cy="85.59" r="0.95" fill="#111"/>
<circle cx="138.92" cy="76.65" r="0.95" fill="#111"/>
<circle cx="138.64" cy="96.90" r="0.95" fill="#111"/>
<circle cx="138.54" cy="87.66" r="0.95" fill="#111"/>
<circle cx="139.13" cy="65.37" r="0.95" fill="#111"/>
<circle cx="139.41" cy="78.96" r="0.95" fill="#111"/>
<circle cx="138.31" cy="75.01" r="0.95" fill="#111"/>
<circle cx="138.37" cy="65.67" r="0.95" fill="#111"/>
<circle cx="138.98" cy="92.33" r="0.95" fill="#111"/>
<circle cx="139.48" cy="99.45" r="0.95" fill="#111"/>
<circle cx="139.13" cy="86.91" r="0.95" fill="#111"/>
<circle cx="139.35" cy="89.86" r="0.95" fill="#111"/>
<circle cx="139.17" cy="75.59" r="0.95" fill="#111"/>
<circle cx="139.61" cy="71.45" r="0.95" fill="#111"/>
<circle cx="139.80" cy="76.52" r="0.95" fill="#111"/>
<circle cx="138.21" cy="65.75" r="0.95" fill="#111"/>
<circle cx="139.36" cy="85.48" r="0.95" fill="#111"/>
<line x1="156.20" y1="49.10" x2="156.20" y2="58.70" stroke="#111" stroke-width="1"/>
<line x1="156.20" y1="65.10" x2="156.20" y2="73.30" stroke="#111" stroke-width="1"/>
<line x1="154.20" y1="49.10" x2="158.20" y2="49.10" stroke="#111" stroke-width="1"/>
<line x1="154.20" y1="73.30" x2="158.20" y2="73.30" stroke="#111" stroke-width="1"/>
<rect x="151.70" y="58.70" width="9.0" height="6.40" fill="#eef0f4" stroke="#111" stroke-width="1.2"/>
<line x1="151.70" y1="62.00" x2="160.70" y2="62.00" stroke="#111" stroke-width="1.6"/>
<circle cx="156.78" cy="49.10" r="0.95" fill="#111"/>
<circle cx="155.81" cy="73.30" r="0.95" fill="#111"/>
<circle cx="155.34" cy="56.69" r="0.95" fill="#111"/>
<circle cx="156.13" cy="66.63" r="0.95" fill="#111"/>
<circle cx="155.41" cy="63.17" r="0.95" fill="#111"/>
<circle cx="156.68" cy="64.06" r="0.95" fill="#111"/>
<circle cx="156.00" cy="64.46" r="0.95" fill="#111"/>
<circle cx="156.87" cy="64.60" r="0.95" fill="#111"/>
<circle cx="156.29" cy="66.53" r="0.95" fill="#111"/>
<circle cx="156.89" cy="64.51" r="0.95" fill="#111"/>
<circle cx="155.80" cy="65.99" r="0.95" fill="#111"/>
<circle cx="156.05" cy="53.41" r="0.95" fill="#111"/>
<circle cx="157.02" cy="55.78" r="0.95" fill="#111"/>
<circle cx="155.57" cy="69.63" r="0.95" fill="#111"/>
<circle cx="155.72" cy="63.54" r="0.95" fill="#111"/>
<circle cx="156.17" cy="65.08" r="0.95" fill="#111"/>
<circle cx="155.31" cy="58.86" r="0.95" fill="#111"/>
<circle cx="156.05" cy="60.03" r="0.95" fill="#111"/>
<circle cx="157.02" cy="57.83" r="0.95" fill="#111"/>
<circle cx="156.54" cy="66.49" r="0.95" fill="#111"/>
<circle cx="156.52" cy="55.46" r="0.95" fill="#111"/>
<circle cx="155.40" cy="61.36" r="0.95" fill="#111"/>
<circle cx="156.87" cy="68.66" r="0.95" fill="#111"/>
<circle cx="156.74" cy="57.13" r="0.95" fill="#111"/>
<circle cx="155.49" cy="58.27" r="0.95" fill="#111"/>
<circle cx="156.44" cy="64.99" r="0.95" fill="#111"/>
<circle cx="155.68" cy="63.64" r="0.95" fill="#111"/>
<circle cx="155.59" cy="62.67" r="0.95" fill="#111"/>
<circle cx="155.30" cy="61.16" r="0.95" fill="#111"/>
<circle cx="155.57" cy="63.32" r="0.95" fill="#111"/>
<circle cx="155.35" cy="65.62" r="0.95" fill="#111"/>
<circle cx="156.87" cy="64.68" r="0.95" fill="#111"/>
<circle cx="155.75" cy="59.97" r="0.95" fill="#111"/>
<circle cx="155.93" cy="60.23" r="0.95" fill="#111"/>
<circle cx="156.83" cy="60.40" r="0.95" fill="#111"/>
<circle cx="157.09" cy="63.83" r="0.95" fill="#111"/>
<circle cx="155.45" cy="56.67" r="0.95" fill="#111"/>
<circle cx="155.48" cy="63.16" r="0.95" fill="#111"/>
<circle cx="156.79" cy="59.96" r="0.95" fill="#111"/>
<circle cx="155.59" cy="65.11" r="0.95" fill="#111"/>
<circle cx="156.25" cy="63.68" r="0.95" fill="#111"/>
<circle cx="155.35" cy="65.59" r="0.95" fill="#111"/>
<circle cx="156.25" cy="66.73" r="0.95" fill="#111"/>
<circle cx="156.55" cy="71.37" r="0.95" fill="#111"/>
<circle cx="155.77" cy="60.73" r="0.95" fill="#111"/>
<circle cx="156.69" cy="60.08" r="0.95" fill="#111"/>
<circle cx="156.26" cy="64.13" r="0.95" fill="#111"/>
<circle cx="155.70" cy="62.77" r="0.95" fill="#111"/>
<circle cx="156.76" cy="57.83" r="0.95" fill="#111"/>
<circle cx="156.75" cy="71.24" r="0.95" fill="#111"/>
<circle cx="156.77" cy="61.12" r="0.95" fill="#111"/>
<circle cx="156.23" cy="61.78" r="0.95" fill="#111"/>
<circle cx="155.94" cy="58.61" r="0.95" fill="#111"/>
<circle cx="155.80" cy="63.11" r="0.95" fill="#111"/>
<circle cx="155.77" cy="62.20" r="0.95" fill="#111"/>
<circle cx="156.11" cy="57.81" r="0.95" fill="#111"/>
<circle cx="156.99" cy="50.89" r="0.95" fill="#111"/>
<circle cx="155.96" cy="61.11" r="0.95" fill="#111"/>
<circle cx="155.65" cy="62.63" r="0.95" fill="#111"/>
<circle cx="155.67" cy="65.34" r="0.95" fill="#111"/>
<circle cx="156.81" cy="54.76" r="0.95" fill="#111"/>
<circle cx="156.16" cy="54.84" r="0.95" fill="#111"/>
<circle cx="155.45" cy="57.13" r="0.95" fill="#111"/>
<circle cx="156.49" cy="55.03" r="0.95" fill="#111"/>
<circle cx="156.65" cy="68.98" r="0.95" fill="#111"/>
<circle cx="156.16" cy="57.55" r="0.95" fill="#111"/>
<circle cx="155.90" cy="65.63" r="0.95" fill="#111"/>
<circle cx="156.74" cy="69.54" r="0.95" fill="#111"/>
<circle cx="156.02" cy="66.68" r="0.95" fill="#111"/>
<circle cx="157.00" cy="61.16" r="0.95" fill="#111"/>
<rect x="128.80" y="41.70" width="37.50" height="74.20" fill="none" stroke="#262626" stroke-width="1.3"/>
<line x1="125.80" y1="45.00" x2="128.80" y2="45.00" stroke="#262626" stroke-width="1.15"/>
<text x="122.80" y="47.30" font-size="6.7" text-anchor="end" font-weight="normal" fill="#222" stroke="#222" stroke-width="0.12" >1</text>
<line x1="125.80" y1="59.40" x2="128.80" y2="59.40" stroke="#262626" stroke-width="1.15"/>
<text x="122.80" y="61.70" font-size="6.7" text-anchor="end" font-weight="normal" fill="#222" stroke="#222" stroke-width="0.12" >0</text>
<line x1="125.80" y1="73.90" x2="128.80" y2="73.90" stroke="#262626" stroke-width="1.15"/>
<text x="122.80" y="76.20" font-size="6.7" text-anchor="end" font-weight="normal" fill="#222" stroke="#222" stroke-width="0.12" >-1</text>
<line x1="125.80" y1="88.40" x2="128.80" y2="88.40" stroke="#262626" stroke-width="1.15"/>
<text x="122.80" y="90.70" font-size="6.7" text-anchor="end" font-weight="normal" fill="#222" stroke="#222" stroke-width="0.12" >-2</text>
<line x1="125.80" y1="103.00" x2="128.80" y2="103.00" stroke="#262626" stroke-width="1.15"/>
<text x="122.80" y="105.30" font-size="6.7" text-anchor="end" font-weight="normal" fill="#222" stroke="#222" stroke-width="0.12" >-3</text>
<line x1="138.90" y1="115.90" x2="138.90" y2="118.90" stroke="#262626" stroke-width="1.15"/>
<text transform="translate(141.70,126.30) rotate(-45)" x="0" y="0" font-size="6.4" text-anchor="end" fill="#222" stroke="#222" stroke-width="0.22">Phase 1</text>
<line x1="156.10" y1="115.90" x2="156.10" y2="118.90" stroke="#262626" stroke-width="1.15"/>
<text transform="translate(158.90,126.30) rotate(-45)" x="0" y="0" font-size="6.4" text-anchor="end" fill="#222" stroke="#222" stroke-width="0.22">Phase 2</text>
<line x1="295.95" y1="72.50" x2="341.80" y2="72.50" stroke="#7e1739" stroke-width="1.5"/>
<line x1="310.00" y1="76.00" x2="310.00" y2="79.40" stroke="#111" stroke-width="1"/>
<line x1="310.00" y1="93.40" x2="310.00" y2="108.50" stroke="#111" stroke-width="1"/>
<line x1="308.00" y1="76.00" x2="312.00" y2="76.00" stroke="#111" stroke-width="1"/>
<line x1="308.00" y1="108.50" x2="312.00" y2="108.50" stroke="#111" stroke-width="1"/>
<rect x="305.50" y="79.40" width="9.0" height="14.00" fill="#eef0f4" stroke="#111" stroke-width="1.2"/>
<line x1="305.50" y1="87.20" x2="314.50" y2="87.20" stroke="#111" stroke-width="1.6"/>
<circle cx="309.33" cy="76.00" r="0.95" fill="#111"/>
<circle cx="309.37" cy="108.50" r="0.95" fill="#111"/>
<circle cx="309.36" cy="102.74" r="0.95" fill="#111"/>
<circle cx="310.59" cy="76.62" r="0.95" fill="#111"/>
<circle cx="309.73" cy="102.26" r="0.95" fill="#111"/>
<circle cx="310.09" cy="85.33" r="0.95" fill="#111"/>
<circle cx="310.85" cy="88.39" r="0.95" fill="#111"/>
<circle cx="310.27" cy="88.49" r="0.95" fill="#111"/>
<circle cx="309.88" cy="83.18" r="0.95" fill="#111"/>
<circle cx="309.48" cy="100.63" r="0.95" fill="#111"/>
<circle cx="309.53" cy="87.10" r="0.95" fill="#111"/>
<circle cx="310.16" cy="95.83" r="0.95" fill="#111"/>
<circle cx="309.34" cy="86.56" r="0.95" fill="#111"/>
<circle cx="310.74" cy="97.99" r="0.95" fill="#111"/>
<circle cx="310.15" cy="80.23" r="0.95" fill="#111"/>
<circle cx="310.73" cy="96.32" r="0.95" fill="#111"/>
<circle cx="310.00" cy="98.29" r="0.95" fill="#111"/>
<circle cx="309.13" cy="84.69" r="0.95" fill="#111"/>
<circle cx="309.11" cy="81.07" r="0.95" fill="#111"/>
<circle cx="310.54" cy="89.62" r="0.95" fill="#111"/>
<circle cx="310.41" cy="92.71" r="0.95" fill="#111"/>
<circle cx="310.10" cy="97.58" r="0.95" fill="#111"/>
<circle cx="310.10" cy="81.44" r="0.95" fill="#111"/>
<circle cx="310.51" cy="98.33" r="0.95" fill="#111"/>
<circle cx="309.55" cy="97.65" r="0.95" fill="#111"/>
<circle cx="309.60" cy="95.42" r="0.95" fill="#111"/>
<circle cx="310.11" cy="88.92" r="0.95" fill="#111"/>
<circle cx="309.90" cy="88.64" r="0.95" fill="#111"/>
<circle cx="310.02" cy="77.84" r="0.95" fill="#111"/>
<circle cx="310.35" cy="79.20" r="0.95" fill="#111"/>
<circle cx="309.96" cy="90.98" r="0.95" fill="#111"/>
<circle cx="310.68" cy="102.20" r="0.95" fill="#111"/>
<circle cx="310.80" cy="81.42" r="0.95" fill="#111"/>
<circle cx="310.80" cy="86.40" r="0.95" fill="#111"/>
<line x1="327.20" y1="48.80" x2="327.20" y2="57.10" stroke="#111" stroke-width="1"/>
<line x1="327.20" y1="62.90" x2="327.20" y2="71.90" stroke="#111" stroke-width="1"/>
<line x1="325.20" y1="48.80" x2="329.20" y2="48.80" stroke="#111" stroke-width="1"/>
<line x1="325.20" y1="71.90" x2="329.20" y2="71.90" stroke="#111" stroke-width="1"/>
<rect x="322.70" y="57.10" width="9.0" height="5.80" fill="#eef0f4" stroke="#111" stroke-width="1.2"/>
<line x1="322.70" y1="60.00" x2="331.70" y2="60.00" stroke="#111" stroke-width="1.6"/>
<circle cx="327.88" cy="48.80" r="0.95" fill="#111"/>
<circle cx="327.08" cy="71.90" r="0.95" fill="#111"/>
<circle cx="326.35" cy="61.66" r="0.95" fill="#111"/>
<circle cx="327.54" cy="60.10" r="0.95" fill="#111"/>
<circle cx="327.77" cy="61.67" r="0.95" fill="#111"/>
<circle cx="327.63" cy="61.99" r="0.95" fill="#111"/>
<circle cx="327.52" cy="58.50" r="0.95" fill="#111"/>
<circle cx="328.14" cy="65.54" r="0.95" fill="#111"/>
<circle cx="326.64" cy="66.96" r="0.95" fill="#111"/>
<circle cx="327.17" cy="64.14" r="0.95" fill="#111"/>
<circle cx="328.18" cy="58.73" r="0.95" fill="#111"/>
<circle cx="327.06" cy="61.26" r="0.95" fill="#111"/>
<circle cx="327.23" cy="57.78" r="0.95" fill="#111"/>
<circle cx="326.84" cy="58.49" r="0.95" fill="#111"/>
<circle cx="327.64" cy="62.40" r="0.95" fill="#111"/>
<circle cx="327.08" cy="65.42" r="0.95" fill="#111"/>
<circle cx="326.24" cy="60.67" r="0.95" fill="#111"/>
<circle cx="327.22" cy="57.06" r="0.95" fill="#111"/>
<circle cx="326.33" cy="65.24" r="0.95" fill="#111"/>
<circle cx="328.14" cy="67.54" r="0.95" fill="#111"/>
<circle cx="326.41" cy="59.29" r="0.95" fill="#111"/>
<circle cx="327.76" cy="59.88" r="0.95" fill="#111"/>
<circle cx="326.74" cy="61.22" r="0.95" fill="#111"/>
<circle cx="328.02" cy="63.09" r="0.95" fill="#111"/>
<circle cx="327.84" cy="63.27" r="0.95" fill="#111"/>
<circle cx="328.04" cy="59.87" r="0.95" fill="#111"/>
<circle cx="327.34" cy="62.44" r="0.95" fill="#111"/>
<circle cx="326.32" cy="59.43" r="0.95" fill="#111"/>
<circle cx="327.58" cy="58.23" r="0.95" fill="#111"/>
<circle cx="328.08" cy="58.51" r="0.95" fill="#111"/>
<circle cx="327.47" cy="60.75" r="0.95" fill="#111"/>
<circle cx="327.91" cy="60.57" r="0.95" fill="#111"/>
<circle cx="326.33" cy="58.30" r="0.95" fill="#111"/>
<circle cx="326.88" cy="63.07" r="0.95" fill="#111"/>
<circle cx="327.31" cy="56.41" r="0.95" fill="#111"/>
<circle cx="326.46" cy="63.04" r="0.95" fill="#111"/>
<circle cx="327.25" cy="58.49" r="0.95" fill="#111"/>
<circle cx="326.52" cy="60.15" r="0.95" fill="#111"/>
<circle cx="326.30" cy="62.06" r="0.95" fill="#111"/>
<circle cx="326.81" cy="61.11" r="0.95" fill="#111"/>
<circle cx="327.72" cy="63.55" r="0.95" fill="#111"/>
<circle cx="326.56" cy="58.74" r="0.95" fill="#111"/>
<circle cx="326.89" cy="64.90" r="0.95" fill="#111"/>
<circle cx="326.23" cy="63.24" r="0.95" fill="#111"/>
<circle cx="327.67" cy="60.37" r="0.95" fill="#111"/>
<circle cx="327.15" cy="57.36" r="0.95" fill="#111"/>
<circle cx="328.07" cy="59.12" r="0.95" fill="#111"/>
<circle cx="327.06" cy="66.24" r="0.95" fill="#111"/>
<circle cx="327.19" cy="64.92" r="0.95" fill="#111"/>
<circle cx="327.21" cy="62.18" r="0.95" fill="#111"/>
<circle cx="327.58" cy="56.30" r="0.95" fill="#111"/>
<circle cx="327.86" cy="63.91" r="0.95" fill="#111"/>
<circle cx="327.61" cy="59.57" r="0.95" fill="#111"/>
<circle cx="326.90" cy="57.13" r="0.95" fill="#111"/>
<circle cx="326.31" cy="56.70" r="0.95" fill="#111"/>
<circle cx="327.68" cy="61.13" r="0.95" fill="#111"/>
<circle cx="326.71" cy="61.20" r="0.95" fill="#111"/>
<circle cx="327.88" cy="60.94" r="0.95" fill="#111"/>
<circle cx="327.94" cy="61.54" r="0.95" fill="#111"/>
<circle cx="326.68" cy="58.33" r="0.95" fill="#111"/>
<circle cx="326.79" cy="56.93" r="0.95" fill="#111"/>
<circle cx="327.09" cy="57.57" r="0.95" fill="#111"/>
<circle cx="326.73" cy="60.63" r="0.95" fill="#111"/>
<circle cx="327.29" cy="71.19" r="0.95" fill="#111"/>
<circle cx="326.69" cy="57.26" r="0.95" fill="#111"/>
<circle cx="326.91" cy="63.61" r="0.95" fill="#111"/>
<circle cx="326.20" cy="59.21" r="0.95" fill="#111"/>
<circle cx="327.21" cy="56.41" r="0.95" fill="#111"/>
<circle cx="326.60" cy="63.30" r="0.95" fill="#111"/>
<circle cx="326.73" cy="59.57" r="0.95" fill="#111"/>
<rect x="299.95" y="41.60" width="37.65" height="74.20" fill="none" stroke="#262626" stroke-width="1.3"/>
<line x1="296.95" y1="44.30" x2="299.95" y2="44.30" stroke="#262626" stroke-width="1.15"/>
<text x="293.95" y="46.60" font-size="6.7" text-anchor="end" font-weight="normal" fill="#222" stroke="#222" stroke-width="0.12" >2</text>
<line x1="296.95" y1="56.30" x2="299.95" y2="56.30" stroke="#262626" stroke-width="1.15"/>
<text x="293.95" y="58.60" font-size="6.7" text-anchor="end" font-weight="normal" fill="#222" stroke="#222" stroke-width="0.12" >1</text>
<line x1="296.95" y1="68.20" x2="299.95" y2="68.20" stroke="#262626" stroke-width="1.15"/>
<text x="293.95" y="70.50" font-size="6.7" text-anchor="end" font-weight="normal" fill="#222" stroke="#222" stroke-width="0.12" >0</text>
<line x1="296.95" y1="80.20" x2="299.95" y2="80.20" stroke="#262626" stroke-width="1.15"/>
<text x="293.95" y="82.50" font-size="6.7" text-anchor="end" font-weight="normal" fill="#222" stroke="#222" stroke-width="0.12" >-1</text>
<line x1="296.95" y1="92.20" x2="299.95" y2="92.20" stroke="#262626" stroke-width="1.15"/>
<text x="293.95" y="94.50" font-size="6.7" text-anchor="end" font-weight="normal" fill="#222" stroke="#222" stroke-width="0.12" >-2</text>
<line x1="296.95" y1="104.10" x2="299.95" y2="104.10" stroke="#262626" stroke-width="1.15"/>
<text x="293.95" y="106.40" font-size="6.7" text-anchor="end" font-weight="normal" fill="#222" stroke="#222" stroke-width="0.12" >-3</text>
<line x1="296.95" y1="116.00" x2="299.95" y2="116.00" stroke="#262626" stroke-width="1.15"/>
<text x="293.95" y="118.30" font-size="6.7" text-anchor="end" font-weight="normal" fill="#222" stroke="#222" stroke-width="0.12" >-4</text>
<line x1="309.60" y1="115.80" x2="309.60" y2="118.80" stroke="#262626" stroke-width="1.15"/>
<text transform="translate(312.40,126.20) rotate(-45)" x="0" y="0" font-size="6.4" text-anchor="end" fill="#222" stroke="#222" stroke-width="0.22">Phase 1</text>
<line x1="327.10" y1="115.80" x2="327.10" y2="118.80" stroke="#262626" stroke-width="1.15"/>
<text transform="translate(329.90,126.20) rotate(-45)" x="0" y="0" font-size="6.4" text-anchor="end" fill="#222" stroke="#222" stroke-width="0.22">Phase 3</text>
<line x1="468.10" y1="81.40" x2="513.20" y2="81.40" stroke="#7e1739" stroke-width="1.5"/>
<line x1="482.00" y1="69.80" x2="482.00" y2="85.00" stroke="#111" stroke-width="1"/>
<line x1="482.00" y1="95.50" x2="482.00" y2="107.80" stroke="#111" stroke-width="1"/>
<line x1="480.00" y1="69.80" x2="484.00" y2="69.80" stroke="#111" stroke-width="1"/>
<line x1="480.00" y1="107.80" x2="484.00" y2="107.80" stroke="#111" stroke-width="1"/>
<rect x="477.50" y="85.00" width="9.0" height="10.50" fill="#eef0f4" stroke="#111" stroke-width="1.2"/>
<line x1="477.50" y1="92.50" x2="486.50" y2="92.50" stroke="#111" stroke-width="1.6"/>
<circle cx="481.18" cy="69.80" r="0.95" fill="#111"/>
<circle cx="481.04" cy="107.80" r="0.95" fill="#111"/>
<circle cx="481.61" cy="93.84" r="0.95" fill="#111"/>
<circle cx="482.06" cy="93.61" r="0.95" fill="#111"/>
<circle cx="482.50" cy="102.76" r="0.95" fill="#111"/>
<circle cx="482.76" cy="85.73" r="0.95" fill="#111"/>
<circle cx="481.78" cy="82.18" r="0.95" fill="#111"/>
<circle cx="481.30" cy="82.15" r="0.95" fill="#111"/>
<circle cx="481.09" cy="90.69" r="0.95" fill="#111"/>
<circle cx="482.67" cy="81.48" r="0.95" fill="#111"/>
<circle cx="482.47" cy="101.00" r="0.95" fill="#111"/>
<circle cx="482.62" cy="85.64" r="0.95" fill="#111"/>
<circle cx="482.01" cy="98.57" r="0.95" fill="#111"/>
<circle cx="482.67" cy="99.77" r="0.95" fill="#111"/>
<circle cx="482.17" cy="97.40" r="0.95" fill="#111"/>
<circle cx="482.79" cy="78.80" r="0.95" fill="#111"/>
<circle cx="481.46" cy="87.61" r="0.95" fill="#111"/>
<circle cx="481.06" cy="81.59" r="0.95" fill="#111"/>
<circle cx="481.21" cy="97.43" r="0.95" fill="#111"/>
<circle cx="482.67" cy="97.96" r="0.95" fill="#111"/>
<circle cx="482.25" cy="82.30" r="0.95" fill="#111"/>
<circle cx="482.36" cy="88.57" r="0.95" fill="#111"/>
<circle cx="482.60" cy="91.87" r="0.95" fill="#111"/>
<circle cx="482.50" cy="92.54" r="0.95" fill="#111"/>
<circle cx="482.32" cy="82.87" r="0.95" fill="#111"/>
<circle cx="481.13" cy="92.32" r="0.95" fill="#111"/>
<circle cx="481.15" cy="92.01" r="0.95" fill="#111"/>
<circle cx="481.53" cy="86.59" r="0.95" fill="#111"/>
<circle cx="482.48" cy="91.82" r="0.95" fill="#111"/>
<circle cx="482.95" cy="87.27" r="0.95" fill="#111"/>
<circle cx="481.96" cy="84.87" r="0.95" fill="#111"/>
<circle cx="482.37" cy="92.79" r="0.95" fill="#111"/>
<circle cx="482.29" cy="93.65" r="0.95" fill="#111"/>
<circle cx="481.15" cy="81.79" r="0.95" fill="#111"/>
<circle cx="482.49" cy="96.08" r="0.95" fill="#111"/>
<circle cx="481.61" cy="97.26" r="0.95" fill="#111"/>
<circle cx="481.12" cy="91.38" r="0.95" fill="#111"/>
<circle cx="481.54" cy="91.99" r="0.95" fill="#111"/>
<circle cx="482.35" cy="86.88" r="0.95" fill="#111"/>
<circle cx="481.58" cy="81.97" r="0.95" fill="#111"/>
<line x1="499.30" y1="49.00" x2="499.30" y2="65.30" stroke="#111" stroke-width="1"/>
<line x1="499.30" y1="74.90" x2="499.30" y2="90.50" stroke="#111" stroke-width="1"/>
<line x1="497.30" y1="49.00" x2="501.30" y2="49.00" stroke="#111" stroke-width="1"/>
<line x1="497.30" y1="90.50" x2="501.30" y2="90.50" stroke="#111" stroke-width="1"/>
<rect x="494.80" y="65.30" width="9.0" height="9.60" fill="#eef0f4" stroke="#111" stroke-width="1.2"/>
<line x1="494.80" y1="70.50" x2="503.80" y2="70.50" stroke="#111" stroke-width="1.6"/>
<circle cx="499.20" cy="49.00" r="0.95" fill="#111"/>
<circle cx="498.16" cy="90.50" r="0.95" fill="#111"/>
<circle cx="500.73" cy="74.22" r="0.95" fill="#111"/>
<circle cx="500.61" cy="67.56" r="0.95" fill="#111"/>
<circle cx="500.26" cy="78.33" r="0.95" fill="#111"/>
<circle cx="500.70" cy="71.37" r="0.95" fill="#111"/>
<circle cx="498.43" cy="65.16" r="0.95" fill="#111"/>
<circle cx="500.64" cy="72.26" r="0.95" fill="#111"/>
<circle cx="498.23" cy="72.79" r="0.95" fill="#111"/>
<circle cx="499.37" cy="79.60" r="0.95" fill="#111"/>
<circle cx="500.26" cy="74.13" r="0.95" fill="#111"/>
<circle cx="499.33" cy="69.39" r="0.95" fill="#111"/>
<circle cx="498.49" cy="78.90" r="0.95" fill="#111"/>
<circle cx="500.49" cy="63.27" r="0.95" fill="#111"/>
<circle cx="497.81" cy="68.91" r="0.95" fill="#111"/>
<circle cx="499.28" cy="70.64" r="0.95" fill="#111"/>
<circle cx="498.22" cy="64.76" r="0.95" fill="#111"/>
<circle cx="498.83" cy="72.34" r="0.95" fill="#111"/>
<circle cx="497.81" cy="65.01" r="0.95" fill="#111"/>
<circle cx="500.05" cy="82.96" r="0.95" fill="#111"/>
<circle cx="500.58" cy="72.41" r="0.95" fill="#111"/>
<circle cx="499.94" cy="67.45" r="0.95" fill="#111"/>
<circle cx="498.92" cy="75.29" r="0.95" fill="#111"/>
<circle cx="498.98" cy="67.09" r="0.95" fill="#111"/>
<circle cx="498.88" cy="79.98" r="0.95" fill="#111"/>
<circle cx="499.08" cy="70.43" r="0.95" fill="#111"/>
<circle cx="498.11" cy="70.15" r="0.95" fill="#111"/>
<circle cx="500.30" cy="72.71" r="0.95" fill="#111"/>
<circle cx="498.55" cy="66.80" r="0.95" fill="#111"/>
<circle cx="498.60" cy="86.74" r="0.95" fill="#111"/>
<circle cx="498.92" cy="65.90" r="0.95" fill="#111"/>
<circle cx="500.67" cy="70.18" r="0.95" fill="#111"/>
<circle cx="499.69" cy="80.21" r="0.95" fill="#111"/>
<circle cx="500.54" cy="61.86" r="0.95" fill="#111"/>
<circle cx="499.96" cy="78.86" r="0.95" fill="#111"/>
<circle cx="497.95" cy="67.23" r="0.95" fill="#111"/>
<circle cx="500.06" cy="69.64" r="0.95" fill="#111"/>
<circle cx="499.73" cy="62.76" r="0.95" fill="#111"/>
<circle cx="500.58" cy="69.99" r="0.95" fill="#111"/>
<circle cx="498.18" cy="72.70" r="0.95" fill="#111"/>
<circle cx="498.69" cy="64.07" r="0.95" fill="#111"/>
<circle cx="500.02" cy="71.63" r="0.95" fill="#111"/>
<circle cx="499.77" cy="75.96" r="0.95" fill="#111"/>
<circle cx="498.70" cy="69.68" r="0.95" fill="#111"/>
<circle cx="498.30" cy="63.84" r="0.95" fill="#111"/>
<circle cx="498.28" cy="67.99" r="0.95" fill="#111"/>
<circle cx="499.29" cy="74.55" r="0.95" fill="#111"/>
<circle cx="498.46" cy="85.42" r="0.95" fill="#111"/>
<circle cx="499.15" cy="90.37" r="0.95" fill="#111"/>
<circle cx="498.22" cy="57.22" r="0.95" fill="#111"/>
<circle cx="498.83" cy="71.60" r="0.95" fill="#111"/>
<circle cx="498.07" cy="73.40" r="0.95" fill="#111"/>
<circle cx="499.51" cy="70.88" r="0.95" fill="#111"/>
<circle cx="500.46" cy="75.99" r="0.95" fill="#111"/>
<circle cx="499.04" cy="70.48" r="0.95" fill="#111"/>
<circle cx="499.37" cy="63.16" r="0.95" fill="#111"/>
<circle cx="497.99" cy="65.88" r="0.95" fill="#111"/>
<circle cx="498.63" cy="75.01" r="0.95" fill="#111"/>
<circle cx="499.31" cy="74.11" r="0.95" fill="#111"/>
<circle cx="499.69" cy="69.76" r="0.95" fill="#111"/>
<circle cx="498.61" cy="73.73" r="0.95" fill="#111"/>
<circle cx="498.55" cy="66.74" r="0.95" fill="#111"/>
<circle cx="500.66" cy="64.26" r="0.95" fill="#111"/>
<circle cx="500.35" cy="75.05" r="0.95" fill="#111"/>
<circle cx="497.90" cy="71.54" r="0.95" fill="#111"/>
<circle cx="499.93" cy="69.43" r="0.95" fill="#111"/>
<circle cx="499.56" cy="76.88" r="0.95" fill="#111"/>
<circle cx="497.80" cy="65.59" r="0.95" fill="#111"/>
<circle cx="500.28" cy="57.87" r="0.95" fill="#111"/>
<circle cx="500.37" cy="80.75" r="0.95" fill="#111"/>
<circle cx="498.13" cy="75.79" r="0.95" fill="#111"/>
<circle cx="498.26" cy="69.57" r="0.95" fill="#111"/>
<circle cx="500.62" cy="59.84" r="0.95" fill="#111"/>
<circle cx="499.97" cy="68.99" r="0.95" fill="#111"/>
<circle cx="499.17" cy="63.23" r="0.95" fill="#111"/>
<circle cx="499.45" cy="60.83" r="0.95" fill="#111"/>
<circle cx="498.50" cy="82.54" r="0.95" fill="#111"/>
<circle cx="500.56" cy="73.55" r="0.95" fill="#111"/>
<circle cx="498.18" cy="66.81" r="0.95" fill="#111"/>
<circle cx="498.56" cy="65.71" r="0.95" fill="#111"/>
<circle cx="498.14" cy="63.28" r="0.95" fill="#111"/>
<circle cx="498.01" cy="62.18" r="0.95" fill="#111"/>
<circle cx="498.96" cy="61.21" r="0.95" fill="#111"/>
<circle cx="498.47" cy="69.06" r="0.95" fill="#111"/>
<circle cx="498.70" cy="69.67" r="0.95" fill="#111"/>
<circle cx="499.18" cy="69.89" r="0.95" fill="#111"/>
<circle cx="500.45" cy="80.39" r="0.95" fill="#111"/>
<circle cx="499.23" cy="67.89" r="0.95" fill="#111"/>
<circle cx="500.68" cy="71.01" r="0.95" fill="#111"/>
<circle cx="499.91" cy="75.83" r="0.95" fill="#111"/>
<circle cx="499.29" cy="69.97" r="0.95" fill="#111"/>
<circle cx="499.82" cy="71.90" r="0.95" fill="#111"/>
<circle cx="499.80" cy="65.69" r="0.95" fill="#111"/>
<circle cx="500.58" cy="73.14" r="0.95" fill="#111"/>
<circle cx="498.81" cy="70.77" r="0.95" fill="#111"/>
<circle cx="499.06" cy="72.35" r="0.95" fill="#111"/>
<circle cx="500.19" cy="68.56" r="0.95" fill="#111"/>
<circle cx="500.02" cy="66.19" r="0.95" fill="#111"/>
<circle cx="500.71" cy="65.68" r="0.95" fill="#111"/>
<circle cx="498.74" cy="70.35" r="0.95" fill="#111"/>
<circle cx="498.46" cy="72.69" r="0.95" fill="#111"/>
<circle cx="500.08" cy="65.84" r="0.95" fill="#111"/>
<circle cx="499.29" cy="65.62" r="0.95" fill="#111"/>
<circle cx="498.36" cy="87.33" r="0.95" fill="#111"/>
<circle cx="499.80" cy="71.73" r="0.95" fill="#111"/>
<circle cx="500.65" cy="77.78" r="0.95" fill="#111"/>
<circle cx="498.44" cy="74.81" r="0.95" fill="#111"/>
<circle cx="500.72" cy="76.16" r="0.95" fill="#111"/>
<circle cx="497.98" cy="71.96" r="0.95" fill="#111"/>
<circle cx="498.98" cy="72.31" r="0.95" fill="#111"/>
<circle cx="500.00" cy="82.33" r="0.95" fill="#111"/>
<circle cx="500.79" cy="61.69" r="0.95" fill="#111"/>
<circle cx="498.36" cy="76.28" r="0.95" fill="#111"/>
<circle cx="500.61" cy="67.85" r="0.95" fill="#111"/>
<circle cx="499.79" cy="70.46" r="0.95" fill="#111"/>
<circle cx="498.94" cy="68.69" r="0.95" fill="#111"/>
<circle cx="498.31" cy="66.02" r="0.95" fill="#111"/>
<circle cx="497.81" cy="75.05" r="0.95" fill="#111"/>
<circle cx="500.67" cy="69.27" r="0.95" fill="#111"/>
<circle cx="498.17" cy="77.00" r="0.95" fill="#111"/>
<circle cx="498.87" cy="75.23" r="0.95" fill="#111"/>
<circle cx="500.26" cy="69.42" r="0.95" fill="#111"/>
<circle cx="497.95" cy="73.81" r="0.95" fill="#111"/>
<circle cx="499.22" cy="63.69" r="0.95" fill="#111"/>
<circle cx="498.38" cy="59.38" r="0.95" fill="#111"/>
<circle cx="498.89" cy="81.95" r="0.95" fill="#111"/>
<circle cx="499.03" cy="71.91" r="0.95" fill="#111"/>
<circle cx="500.24" cy="69.44" r="0.95" fill="#111"/>
<circle cx="497.90" cy="70.71" r="0.95" fill="#111"/>
<circle cx="497.99" cy="68.46" r="0.95" fill="#111"/>
<circle cx="500.04" cy="75.30" r="0.95" fill="#111"/>
<circle cx="500.50" cy="67.86" r="0.95" fill="#111"/>
<circle cx="500.67" cy="67.49" r="0.95" fill="#111"/>
<circle cx="499.65" cy="75.31" r="0.95" fill="#111"/>
<circle cx="498.75" cy="69.64" r="0.95" fill="#111"/>
<circle cx="498.63" cy="81.76" r="0.95" fill="#111"/>
<circle cx="500.55" cy="82.43" r="0.95" fill="#111"/>
<circle cx="499.70" cy="70.78" r="0.95" fill="#111"/>
<circle cx="498.50" cy="71.98" r="0.95" fill="#111"/>
<circle cx="499.23" cy="69.95" r="0.95" fill="#111"/>
<circle cx="498.96" cy="87.49" r="0.95" fill="#111"/>
<circle cx="498.55" cy="65.77" r="0.95" fill="#111"/>
<circle cx="500.58" cy="63.00" r="0.95" fill="#111"/>
<circle cx="498.35" cy="74.03" r="0.95" fill="#111"/>
<circle cx="500.27" cy="74.28" r="0.95" fill="#111"/>
<circle cx="500.12" cy="59.48" r="0.95" fill="#111"/>
<circle cx="498.76" cy="65.55" r="0.95" fill="#111"/>
<circle cx="498.89" cy="66.54" r="0.95" fill="#111"/>
<circle cx="498.39" cy="71.08" r="0.95" fill="#111"/>
<circle cx="500.06" cy="67.67" r="0.95" fill="#111"/>
<circle cx="497.90" cy="70.54" r="0.95" fill="#111"/>
<circle cx="499.46" cy="73.10" r="0.95" fill="#111"/>
<circle cx="500.45" cy="61.37" r="0.95" fill="#111"/>
<circle cx="500.76" cy="88.21" r="0.95" fill="#111"/>
<circle cx="498.09" cy="70.22" r="0.95" fill="#111"/>
<circle cx="499.30" cy="73.47" r="0.95" fill="#111"/>
<circle cx="498.50" cy="68.56" r="0.95" fill="#111"/>
<circle cx="499.05" cy="63.01" r="0.95" fill="#111"/>
<circle cx="500.04" cy="62.75" r="0.95" fill="#111"/>
<circle cx="500.34" cy="63.20" r="0.95" fill="#111"/>
<rect x="472.10" y="41.60" width="36.90" height="74.80" fill="none" stroke="#262626" stroke-width="1.3"/>
<line x1="469.10" y1="51.70" x2="472.10" y2="51.70" stroke="#262626" stroke-width="1.15"/>
<text x="466.10" y="54.00" font-size="6.7" text-anchor="end" font-weight="normal" fill="#222" stroke="#222" stroke-width="0.12" >1.5</text>
<line x1="469.10" y1="63.20" x2="472.10" y2="63.20" stroke="#262626" stroke-width="1.15"/>
<text x="466.10" y="65.50" font-size="6.7" text-anchor="end" font-weight="normal" fill="#222" stroke="#222" stroke-width="0.12" >1.0</text>
<line x1="469.10" y1="74.70" x2="472.10" y2="74.70" stroke="#262626" stroke-width="1.15"/>
<text x="466.10" y="77.00" font-size="6.7" text-anchor="end" font-weight="normal" fill="#222" stroke="#222" stroke-width="0.12" >0.5</text>
<line x1="469.10" y1="86.10" x2="472.10" y2="86.10" stroke="#262626" stroke-width="1.15"/>
<text x="466.10" y="88.40" font-size="6.7" text-anchor="end" font-weight="normal" fill="#222" stroke="#222" stroke-width="0.12" >0.0</text>
<line x1="469.10" y1="97.60" x2="472.10" y2="97.60" stroke="#262626" stroke-width="1.15"/>
<text x="466.10" y="99.90" font-size="6.7" text-anchor="end" font-weight="normal" fill="#222" stroke="#222" stroke-width="0.12" >-0.5</text>
<line x1="469.10" y1="109.10" x2="472.10" y2="109.10" stroke="#262626" stroke-width="1.15"/>
<text x="466.10" y="111.40" font-size="6.7" text-anchor="end" font-weight="normal" fill="#222" stroke="#222" stroke-width="0.12" >-1.0</text>
<line x1="482.00" y1="116.40" x2="482.00" y2="119.40" stroke="#262626" stroke-width="1.15"/>
<text transform="translate(484.80,126.80) rotate(-45)" x="0" y="0" font-size="6.4" text-anchor="end" fill="#222" stroke="#222" stroke-width="0.22">Phase 2</text>
<line x1="498.80" y1="116.40" x2="498.80" y2="119.40" stroke="#262626" stroke-width="1.15"/>
<text transform="translate(501.60,126.80) rotate(-45)" x="0" y="0" font-size="6.4" text-anchor="end" fill="#222" stroke="#222" stroke-width="0.22">Phase 3</text>
<line x1="130.90" y1="219.90" x2="176.40" y2="219.90" stroke="#7e1739" stroke-width="1.5"/>
<line x1="144.60" y1="224.10" x2="144.60" y2="238.30" stroke="#111" stroke-width="1"/>
<line x1="144.60" y1="248.60" x2="144.60" y2="262.40" stroke="#111" stroke-width="1"/>
<line x1="142.60" y1="224.10" x2="146.60" y2="224.10" stroke="#111" stroke-width="1"/>
<line x1="142.60" y1="262.40" x2="146.60" y2="262.40" stroke="#111" stroke-width="1"/>
<rect x="140.10" y="238.30" width="9.0" height="10.30" fill="#eef0f4" stroke="#111" stroke-width="1.2"/>
<line x1="140.10" y1="244.70" x2="149.10" y2="244.70" stroke="#111" stroke-width="1.6"/>
<circle cx="145.15" cy="224.10" r="0.95" fill="#111"/>
<circle cx="144.27" cy="262.40" r="0.95" fill="#111"/>
<circle cx="144.98" cy="237.97" r="0.95" fill="#111"/>
<circle cx="144.12" cy="241.69" r="0.95" fill="#111"/>
<circle cx="144.05" cy="244.79" r="0.95" fill="#111"/>
<circle cx="145.21" cy="250.42" r="0.95" fill="#111"/>
<circle cx="144.43" cy="238.72" r="0.95" fill="#111"/>
<circle cx="145.39" cy="241.50" r="0.95" fill="#111"/>
<circle cx="145.09" cy="239.17" r="0.95" fill="#111"/>
<circle cx="144.85" cy="244.45" r="0.95" fill="#111"/>
<line x1="161.90" y1="203.30" x2="161.90" y2="204.20" stroke="#111" stroke-width="1"/>
<line x1="161.90" y1="215.30" x2="161.90" y2="216.40" stroke="#111" stroke-width="1"/>
<line x1="159.90" y1="203.30" x2="163.90" y2="203.30" stroke="#111" stroke-width="1"/>
<line x1="159.90" y1="216.40" x2="163.90" y2="216.40" stroke="#111" stroke-width="1"/>
<rect x="157.40" y="204.20" width="9.0" height="11.10" fill="#eef0f4" stroke="#111" stroke-width="1.2"/>
<line x1="157.40" y1="210.10" x2="166.40" y2="210.10" stroke="#111" stroke-width="1.6"/>
<circle cx="161.86" cy="203.30" r="0.95" fill="#111"/>
<circle cx="162.41" cy="216.40" r="0.95" fill="#111"/>
<circle cx="161.29" cy="211.82" r="0.95" fill="#111"/>
<circle cx="162.34" cy="204.04" r="0.95" fill="#111"/>
<circle cx="162.61" cy="212.11" r="0.95" fill="#111"/>
<rect x="134.90" y="195.10" width="37.30" height="75.10" fill="none" stroke="#262626" stroke-width="1.3"/>
<line x1="131.90" y1="207.30" x2="134.90" y2="207.30" stroke="#262626" stroke-width="1.15"/>
<text x="128.90" y="209.60" font-size="6.7" text-anchor="end" font-weight="normal" fill="#222" stroke="#222" stroke-width="0.12" >0.0</text>
<line x1="131.90" y1="220.50" x2="134.90" y2="220.50" stroke="#262626" stroke-width="1.15"/>
<text x="128.90" y="222.80" font-size="6.7" text-anchor="end" font-weight="normal" fill="#222" stroke="#222" stroke-width="0.12" >-0.5</text>
<line x1="131.90" y1="233.60" x2="134.90" y2="233.60" stroke="#262626" stroke-width="1.15"/>
<text x="128.90" y="235.90" font-size="6.7" text-anchor="end" font-weight="normal" fill="#222" stroke="#222" stroke-width="0.12" >-1.0</text>
<line x1="131.90" y1="246.80" x2="134.90" y2="246.80" stroke="#262626" stroke-width="1.15"/>
<text x="128.90" y="249.10" font-size="6.7" text-anchor="end" font-weight="normal" fill="#222" stroke="#222" stroke-width="0.12" >-1.5</text>
<line x1="131.90" y1="260.00" x2="134.90" y2="260.00" stroke="#262626" stroke-width="1.15"/>
<text x="128.90" y="262.30" font-size="6.7" text-anchor="end" font-weight="normal" fill="#222" stroke="#222" stroke-width="0.12" >-2.0</text>
<line x1="144.60" y1="270.20" x2="144.60" y2="273.20" stroke="#262626" stroke-width="1.15"/>
<text transform="translate(147.40,280.60) rotate(-45)" x="0" y="0" font-size="6.4" text-anchor="end" fill="#222" stroke="#222" stroke-width="0.22">Phase 1</text>
<line x1="161.80" y1="270.20" x2="161.80" y2="273.20" stroke="#262626" stroke-width="1.15"/>
<text transform="translate(164.60,280.60) rotate(-45)" x="0" y="0" font-size="6.4" text-anchor="end" fill="#222" stroke="#222" stroke-width="0.22">Phase 2</text>
<line x1="296.10" y1="230.30" x2="341.80" y2="230.30" stroke="#7e1739" stroke-width="1.5"/>
<line x1="309.80" y1="236.90" x2="309.80" y2="247.30" stroke="#111" stroke-width="1"/>
<line x1="309.80" y1="253.50" x2="309.80" y2="262.70" stroke="#111" stroke-width="1"/>
<line x1="307.80" y1="236.90" x2="311.80" y2="236.90" stroke="#111" stroke-width="1"/>
<line x1="307.80" y1="262.70" x2="311.80" y2="262.70" stroke="#111" stroke-width="1"/>
<rect x="305.30" y="247.30" width="9.0" height="6.20" fill="#eef0f4" stroke="#111" stroke-width="1.2"/>
<line x1="305.30" y1="250.70" x2="314.30" y2="250.70" stroke="#111" stroke-width="1.6"/>
<circle cx="309.99" cy="236.90" r="0.95" fill="#111"/>
<circle cx="309.35" cy="262.70" r="0.95" fill="#111"/>
<circle cx="309.33" cy="248.98" r="0.95" fill="#111"/>
<circle cx="309.41" cy="252.56" r="0.95" fill="#111"/>
<circle cx="309.33" cy="245.29" r="0.95" fill="#111"/>
<circle cx="309.02" cy="246.80" r="0.95" fill="#111"/>
<circle cx="309.30" cy="247.47" r="0.95" fill="#111"/>
<circle cx="309.50" cy="256.82" r="0.95" fill="#111"/>
<circle cx="309.88" cy="253.06" r="0.95" fill="#111"/>
<circle cx="309.10" cy="258.53" r="0.95" fill="#111"/>
<line x1="326.80" y1="203.80" x2="326.80" y2="207.30" stroke="#111" stroke-width="1"/>
<line x1="326.80" y1="218.80" x2="326.80" y2="224.00" stroke="#111" stroke-width="1"/>
<line x1="324.80" y1="203.80" x2="328.80" y2="203.80" stroke="#111" stroke-width="1"/>
<line x1="324.80" y1="224.00" x2="328.80" y2="224.00" stroke="#111" stroke-width="1"/>
<rect x="322.30" y="207.30" width="9.0" height="11.50" fill="#eef0f4" stroke="#111" stroke-width="1.2"/>
<line x1="322.30" y1="213.00" x2="331.30" y2="213.00" stroke="#111" stroke-width="1.6"/>
<circle cx="326.88" cy="203.80" r="0.95" fill="#111"/>
<circle cx="327.02" cy="224.00" r="0.95" fill="#111"/>
<circle cx="327.11" cy="217.28" r="0.95" fill="#111"/>
<circle cx="326.66" cy="215.76" r="0.95" fill="#111"/>
<circle cx="327.53" cy="211.48" r="0.95" fill="#111"/>
<circle cx="326.50" cy="220.14" r="0.95" fill="#111"/>
<circle cx="326.67" cy="205.68" r="0.95" fill="#111"/>
<circle cx="327.38" cy="209.75" r="0.95" fill="#111"/>
<rect x="300.10" y="195.10" width="37.50" height="75.20" fill="none" stroke="#262626" stroke-width="1.3"/>
<line x1="297.10" y1="208.00" x2="300.10" y2="208.00" stroke="#262626" stroke-width="1.15"/>
<text x="294.10" y="210.30" font-size="6.7" text-anchor="end" font-weight="normal" fill="#222" stroke="#222" stroke-width="0.12" >1</text>
<line x1="297.10" y1="225.70" x2="300.10" y2="225.70" stroke="#262626" stroke-width="1.15"/>
<text x="294.10" y="228.00" font-size="6.7" text-anchor="end" font-weight="normal" fill="#222" stroke="#222" stroke-width="0.12" >0</text>
<line x1="297.10" y1="243.40" x2="300.10" y2="243.40" stroke="#262626" stroke-width="1.15"/>
<text x="294.10" y="245.70" font-size="6.7" text-anchor="end" font-weight="normal" fill="#222" stroke="#222" stroke-width="0.12" >-1</text>
<line x1="297.10" y1="261.10" x2="300.10" y2="261.10" stroke="#262626" stroke-width="1.15"/>
<text x="294.10" y="263.40" font-size="6.7" text-anchor="end" font-weight="normal" fill="#222" stroke="#222" stroke-width="0.12" >-2</text>
<line x1="309.60" y1="270.30" x2="309.60" y2="273.30" stroke="#262626" stroke-width="1.15"/>
<text transform="translate(312.40,280.70) rotate(-45)" x="0" y="0" font-size="6.4" text-anchor="end" fill="#222" stroke="#222" stroke-width="0.22">Phase 1</text>
<line x1="327.00" y1="270.30" x2="327.00" y2="273.30" stroke="#262626" stroke-width="1.15"/>
<text transform="translate(329.80,280.70) rotate(-45)" x="0" y="0" font-size="6.4" text-anchor="end" fill="#222" stroke="#222" stroke-width="0.22">Phase 3</text>
<line x1="467.90" y1="242.30" x2="513.50" y2="242.30" stroke="#7e1739" stroke-width="1.5"/>
<line x1="481.70" y1="245.00" x2="481.70" y2="245.60" stroke="#111" stroke-width="1"/>
<line x1="481.70" y1="261.40" x2="481.70" y2="262.40" stroke="#111" stroke-width="1"/>
<line x1="479.70" y1="245.00" x2="483.70" y2="245.00" stroke="#111" stroke-width="1"/>
<line x1="479.70" y1="262.40" x2="483.70" y2="262.40" stroke="#111" stroke-width="1"/>
<rect x="477.20" y="245.60" width="9.0" height="15.80" fill="#eef0f4" stroke="#111" stroke-width="1.2"/>
<line x1="477.20" y1="255.40" x2="486.20" y2="255.40" stroke="#111" stroke-width="1.6"/>
<circle cx="481.22" cy="245.00" r="0.95" fill="#111"/>
<circle cx="480.91" cy="262.40" r="0.95" fill="#111"/>
<circle cx="482.34" cy="247.58" r="0.95" fill="#111"/>
<circle cx="480.92" cy="248.64" r="0.95" fill="#111"/>
<circle cx="481.78" cy="257.10" r="0.95" fill="#111"/>
<line x1="499.20" y1="203.60" x2="499.20" y2="210.30" stroke="#111" stroke-width="1"/>
<line x1="499.20" y1="234.90" x2="499.20" y2="246.10" stroke="#111" stroke-width="1"/>
<line x1="497.20" y1="203.60" x2="501.20" y2="203.60" stroke="#111" stroke-width="1"/>
<line x1="497.20" y1="246.10" x2="501.20" y2="246.10" stroke="#111" stroke-width="1"/>
<rect x="494.70" y="210.30" width="9.0" height="24.60" fill="#eef0f4" stroke="#111" stroke-width="1.2"/>
<line x1="494.70" y1="219.90" x2="503.70" y2="219.90" stroke="#111" stroke-width="1.6"/>
<circle cx="498.99" cy="203.60" r="0.95" fill="#111"/>
<circle cx="499.21" cy="246.10" r="0.95" fill="#111"/>
<circle cx="499.23" cy="228.95" r="0.95" fill="#111"/>
<circle cx="499.88" cy="231.70" r="0.95" fill="#111"/>
<circle cx="499.69" cy="236.31" r="0.95" fill="#111"/>
<circle cx="499.95" cy="233.27" r="0.95" fill="#111"/>
<circle cx="499.91" cy="222.98" r="0.95" fill="#111"/>
<circle cx="499.96" cy="228.87" r="0.95" fill="#111"/>
<circle cx="499.88" cy="213.90" r="0.95" fill="#111"/>
<circle cx="499.02" cy="220.55" r="0.95" fill="#111"/>
<circle cx="499.72" cy="240.81" r="0.95" fill="#111"/>
<circle cx="498.66" cy="205.54" r="0.95" fill="#111"/>
<rect x="471.90" y="195.10" width="37.40" height="75.20" fill="none" stroke="#262626" stroke-width="1.3"/>
<line x1="468.90" y1="212.70" x2="471.90" y2="212.70" stroke="#262626" stroke-width="1.15"/>
<text x="465.90" y="215.00" font-size="6.7" text-anchor="end" font-weight="normal" fill="#222" stroke="#222" stroke-width="0.12" >1.0</text>
<line x1="468.90" y1="231.80" x2="471.90" y2="231.80" stroke="#262626" stroke-width="1.15"/>
<text x="465.90" y="234.10" font-size="6.7" text-anchor="end" font-weight="normal" fill="#222" stroke="#222" stroke-width="0.12" >0.5</text>
<line x1="468.90" y1="250.80" x2="471.90" y2="250.80" stroke="#262626" stroke-width="1.15"/>
<text x="465.90" y="253.10" font-size="6.7" text-anchor="end" font-weight="normal" fill="#222" stroke="#222" stroke-width="0.12" >0.0</text>
<line x1="468.90" y1="269.80" x2="471.90" y2="269.80" stroke="#262626" stroke-width="1.15"/>
<text x="465.90" y="272.10" font-size="6.7" text-anchor="end" font-weight="normal" fill="#222" stroke="#222" stroke-width="0.12" >-0.5</text>
<line x1="481.90" y1="270.30" x2="481.90" y2="273.30" stroke="#262626" stroke-width="1.15"/>
<text transform="translate(484.70,280.70) rotate(-45)" x="0" y="0" font-size="6.4" text-anchor="end" fill="#222" stroke="#222" stroke-width="0.22">Phase 2</text>
<line x1="498.80" y1="270.30" x2="498.80" y2="273.30" stroke="#262626" stroke-width="1.15"/>
<text transform="translate(501.60,280.70) rotate(-45)" x="0" y="0" font-size="6.4" text-anchor="end" fill="#222" stroke="#222" stroke-width="0.22">Phase 3</text>
</svg>
</body></html>
